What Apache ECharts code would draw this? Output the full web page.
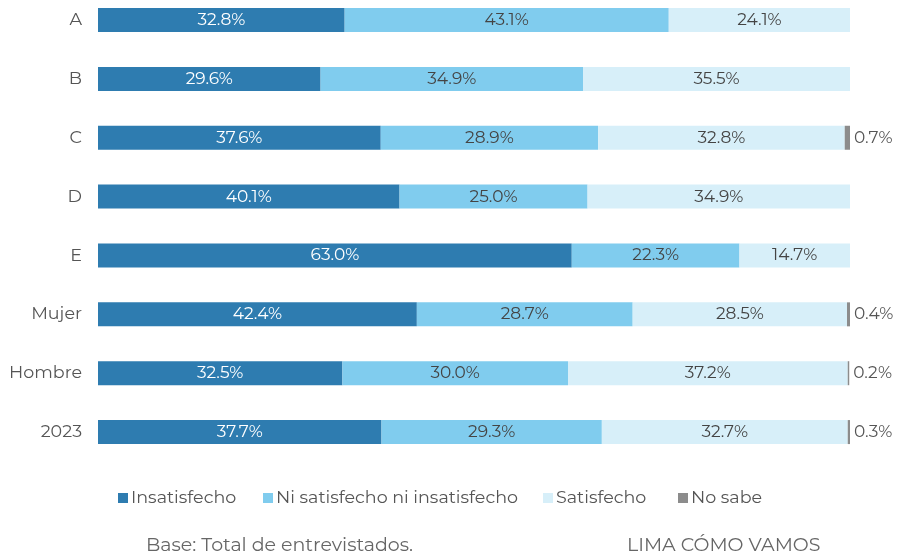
<!DOCTYPE html>
<html>
<head>
<meta charset="utf-8">
<script src="https://cdn.jsdelivr.net/npm/echarts@6/dist/echarts.min.js"></script>
<style>html,body{margin:0;padding:0;background:#fff}#c{width:897px;height:552px}</style>
</head>
<body>
<div id="c"></div>
<script>
const categories = ['A', 'B', 'C', 'D', 'E', 'Mujer', 'Hombre', '2023'];
const insatisfecho = [32.8, 29.6, 37.6, 40.1, 63.0, 42.4, 32.5, 37.7];
const niNi = [43.1, 34.9, 28.9, 25.0, 22.3, 28.7, 30.0, 29.3];
const satisfecho = [24.1, 35.5, 32.8, 34.9, 14.7, 28.5, 37.2, 32.7];
const noSabe = [null, null, 0.7, null, null, 0.4, 0.2, 0.3];
const seriesNames = ['Insatisfecho', 'Ni satisfecho ni insatisfecho', 'Satisfecho', 'No sabe'];
const colors = ['#2e7cb0', '#80ccee', '#d7eff9', '#8c8c8c'];
const FONT = "'Montserrat','Open Sans','Noto Sans',sans-serif";

const chart = echarts.init(document.getElementById('c'));
const fmt = p => p.value == null ? '' : p.value.toFixed(1) + '%';
function mk(name, data, color, labelColor, pos) {
  return {
    name, type: 'bar', stack: 'total', data, barWidth: 24,
    itemStyle: { color },
    label: { show: true, position: pos, formatter: fmt, color: labelColor, fontSize: 17, fontFamily: FONT, distance: 4 },
    emphasis: { disabled: true }
  };
}
const legendLefts = [118, 263, 543, 678];
const legends = seriesNames.map((n, i) => ({
  left: legendLefts[i], top: 489, itemWidth: 10, itemHeight: 10, icon: 'rect',
  textStyle: { color: '#555', fontSize: 17.5, fontFamily: FONT, padding: [0, 0, 0, -2] },
  data: [n], padding: 0
}));
chart.setOption({
  animation: false,
  color: colors,
  grid: { left: 98, right: 47, top: -9.4, height: 470.9, containLabel: false, outerBoundsMode: 'none' },
  xAxis: { type: 'value', min: 0, max: 100, show: false },
  yAxis: {
    type: 'category', data: categories, inverse: true,
    axisLine: { show: false }, axisTick: { show: false },
    axisLabel: { color: '#555', fontSize: 17.5, fontFamily: FONT, margin: 16 }
  },
  legend: legends,
  series: [
    mk(seriesNames[0], insatisfecho, colors[0], '#fff', 'inside'),
    mk(seriesNames[1], niNi, colors[1], '#444', 'inside'),
    mk(seriesNames[2], satisfecho, colors[2], '#444', 'inside'),
    mk(seriesNames[3], noSabe, colors[3], '#555', 'right')
  ],
  graphic: [
    { type: 'text', left: 146, top: 536, style: { text: 'Base: Total de entrevistados.', fill: '#666', fontSize: 19, fontFamily: FONT } },
    { type: 'text', left: 627, top: 536, style: { text: 'LIMA CÓMO VAMOS', fill: '#666', fontSize: 19, fontFamily: FONT } }
  ]
});
</script>
</body>
</html>
